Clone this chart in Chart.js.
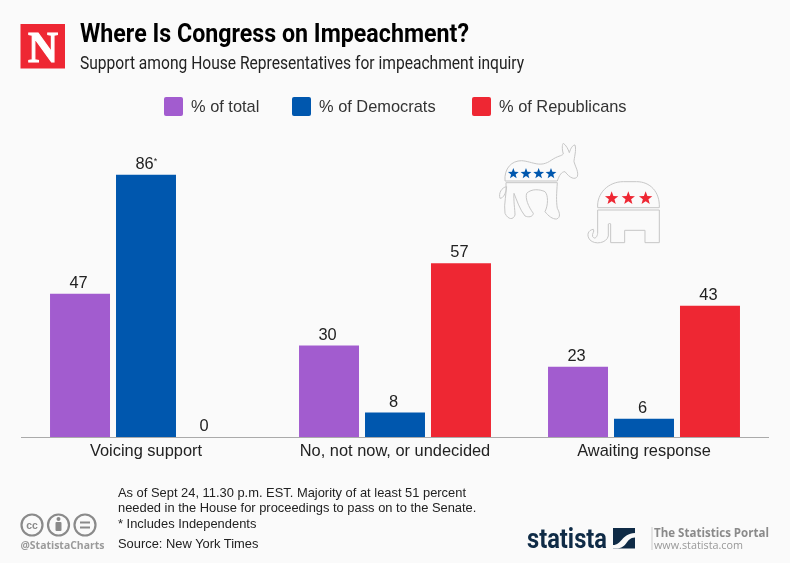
<!DOCTYPE html>
<html>
<head>
<meta charset="utf-8">
<title>Where Is Congress on Impeachment?</title>
<script src="https://cdn.jsdelivr.net/npm/chart.js@4/dist/chart.umd.min.js"></script>
<style>
  html, body { margin: 0; padding: 0; background: #fafafa; }
  #page { position: relative; width: 790px; height: 563px; overflow: hidden; background: #fafafa; font-family: "Liberation Sans", sans-serif; color: #222; }
  #chart { position: absolute; left: 0; top: 0; }
  #art { position: absolute; left: 0; top: 0; }
  .txt { position: absolute; white-space: nowrap; transform-origin: left top; }
  #title { left: 80px; top: 18px; font: 700 26px Roboto, sans-serif; color: #000; transform: scaleX(0.893); }
  #subtitle { left: 80px; top: 52px; font: 400 18px Roboto, sans-serif; color: #222; transform: scaleX(0.866); }
  .swatch { position: absolute; top: 96.5px; width: 19px; height: 19.5px; border-radius: 2px; }
  .legend-label { top: 97px; font-size: 16.4px; color: #333; }
  .note { left: 118px; font-size: 12.9px; color: #222; }
</style>
</head>
<body>
<div id="page">
  <canvas id="chart" width="790" height="563"></canvas>
  <svg id="art" width="790" height="563" viewBox="0 0 790 563">
    <!-- Newsweek logo -->
    <rect x="20.5" y="24" width="44.5" height="44.5" fill="#ee2733"/>
    <text x="43" y="62" text-anchor="middle" font-family="Liberation Serif" font-weight="700" font-size="45" fill="#fff" stroke="#fff" stroke-width="1.2" textLength="30" lengthAdjust="spacingAndGlyphs">N</text>

    <!-- donkey, drawn in zoomed coords -->
    <g transform="translate(480 130) scale(0.3333)" fill="none" stroke="#c6c6c6" stroke-width="3">
      <path d="M75,153 C72,115 95,92 125,92 C160,95 180,115 215,90 C232,78 245,78 250,72 C245,55 247,42 250,40 C258,45 265,58 268,68 C272,55 278,45 285,45 C290,60 282,85 282,95 C288,115 296,125 292,140 C285,150 270,145 255,125 C245,125 238,135 232,153 Z"/>
      <path d="M78,158 H232 C230,190 228,210 232,235 C240,250 242,262 230,267 C218,268 205,258 195,245 C205,225 205,195 195,185 C180,178 155,175 140,190 C135,205 145,230 160,250 C158,262 145,262 135,258 C120,240 110,210 102,190 C100,210 105,240 105,255 C100,270 85,270 75,250 C70,220 82,190 78,158 Z"/>
      <path d="M80,170 C65,172 55,190 60,205 C70,205 78,190 80,170 Z"/>
      <path d="M353,233 C350,190 385,155 430,155 H470 C510,155 540,185 538,233 Z"/>
      <path d="M353,240 H538 V338 H495 V301 H434 V338 H392 V282 C392,280 388,280 385,282 V318 C380,340 345,345 330,330 C318,315 325,300 340,298 C345,305 335,310 338,320 C345,330 352,320 353,310 Z"/>
      <g id="stars"></g>
    </g>

    <!-- CC icons -->
    <g fill="none" stroke="#8a8a8a" stroke-width="2.2">
      <circle cx="32" cy="525" r="10.5"/>
      <circle cx="58.5" cy="525" r="10.5"/>
      <circle cx="85" cy="525" r="10.5"/>
    </g>
    <text x="32" y="529" text-anchor="middle" font-family="Liberation Sans" font-weight="700" font-size="10.5" fill="#8a8a8a">cc</text>
    <circle cx="58.5" cy="519" r="2" fill="#8a8a8a"/>
    <rect x="55.5" y="522" width="6" height="9" rx="1" fill="#8a8a8a"/>
    <rect x="80" y="521.5" width="10" height="2" fill="#8a8a8a"/>
    <rect x="80" y="526.5" width="10" height="2" fill="#8a8a8a"/>
    <text x="20.5" y="548.5" font-family="Open Sans" font-weight="700" font-size="10.5" fill="#9a9a9a" textLength="84" lengthAdjust="spacingAndGlyphs">@StatistaCharts</text>

    <!-- Statista logo -->
    <text x="527" y="548" font-family="Roboto" font-weight="700" font-size="28" fill="#0f2b46" textLength="80" lengthAdjust="spacingAndGlyphs">statista</text>
    <rect x="613" y="528" width="22" height="20.5" fill="#0f2b46"/>
    <path d="M613,545 C622,545 621,534 635,533 V537.5 C625,538 628,548.5 616,548.5 H613 Z" fill="#fafafa"/>
    <rect x="651.5" y="527" width="1" height="23" fill="#ccc"/>
    <text x="654" y="537" font-family="Open Sans" font-weight="700" font-size="11.5" fill="#8a8a8a" textLength="115" lengthAdjust="spacingAndGlyphs">The Statistics Portal</text>
    <text x="654" y="549" font-family="Open Sans" font-size="11.5" fill="#999" textLength="89" lengthAdjust="spacingAndGlyphs">www.statista.com</text>
  </svg>

  <div class="txt" id="title">Where Is Congress on Impeachment?</div>
  <div class="txt" id="subtitle">Support among House Representatives for impeachment inquiry</div>
  <div id="legend"></div>
  <div class="txt note" style="top:485px">As of Sept 24, 11.30 p.m. EST. Majority of at least 51 percent</div>
  <div class="txt note" style="top:500px">needed in the House for proceedings to pass on to the Senate.</div>
  <div class="txt note" style="top:516px">* Includes Independents</div>
  <div class="txt note" style="top:536px">Source: New York Times</div>
</div>

<script>
const categories = ['Voicing support', 'No, not now, or undecided', 'Awaiting response'];
const seriesNames = ['% of total', '% of Democrats', '% of Republicans'];
const totalValues = [47, 30, 23];
const democratValues = [86, 8, 6];
const republicanValues = [0, 57, 43];
const seriesColors = ['#a25ccf', '#0057ae', '#ee2733'];

// legend, same slots as the picture
const legendX = [164, 292, 472];
const legend = document.getElementById('legend');
seriesNames.forEach((name, i) => {
  const sw = document.createElement('div');
  sw.className = 'swatch';
  sw.style.left = legendX[i] + 'px';
  sw.style.background = seriesColors[i];
  legend.appendChild(sw);
  const label = document.createElement('div');
  label.className = 'txt legend-label';
  label.style.left = (legendX[i] + 27) + 'px';
  label.textContent = name;
  legend.appendChild(label);
});

// party stars
function starPoints(cx, cy, r) {
  const pts = [];
  for (let k = 0; k < 10; k++) {
    const rad = k % 2 ? r * 0.42 : r;
    const a = -Math.PI / 2 + k * Math.PI / 5;
    pts.push((cx + rad * Math.cos(a)).toFixed(1) + ',' + (cy + rad * Math.sin(a)).toFixed(1));
  }
  return pts.join(' ');
}
const stars = document.getElementById('stars');
const addStar = (cx, cy, r, color) => {
  const p = document.createElementNS('http://www.w3.org/2000/svg', 'polygon');
  p.setAttribute('points', starPoints(cx, cy, r));
  p.setAttribute('fill', color);
  p.setAttribute('stroke', 'none');
  stars.appendChild(p);
};
[100, 138, 176, 213].forEach(x => addStar(x, 131, 17, '#0057ae'));
[395, 445, 497].forEach(x => addStar(x, 205, 21, '#ee2733'));

// value labels above each bar
const valueLabels = {
  id: 'valueLabels',
  afterDatasetsDraw(chart) {
    const ctx = chart.ctx;
    ctx.save();
    ctx.fillStyle = '#222';
    ctx.textAlign = 'center';
    ctx.textBaseline = 'alphabetic';
    chart.data.datasets.forEach((ds, d) => {
      chart.getDatasetMeta(d).data.forEach((bar, i) => {
        // the zero label sits left of its empty slot in the original
        const x = ds.data[i] === 0 ? bar.x - 8 : bar.x - 1.5;
        ctx.font = '16.4px "Liberation Sans"';
        ctx.fillText(ds.data[i], x, bar.y - 6);
        if (d === 1 && i === 0) {
          ctx.font = '9px "Liberation Sans"';
          ctx.fillText('*', x + 11, bar.y - 11);
        }
      });
    });
    ctx.restore();
  }
};

new Chart(document.getElementById('chart'), {
  type: 'bar',
  data: {
    labels: categories,
    datasets: [
      { label: seriesNames[0], data: totalValues, backgroundColor: seriesColors[0] },
      { label: seriesNames[1], data: democratValues, backgroundColor: seriesColors[1] },
      { label: seriesNames[2], data: republicanValues, backgroundColor: seriesColors[2] }
    ]
  },
  options: {
    responsive: false,
    animation: false,
    devicePixelRatio: 1,
    layout: { padding: { left: 21.5, right: 21.5, top: 132, bottom: 0 } },
    datasets: { bar: { barPercentage: 0.909, categoryPercentage: 0.795 } },
    plugins: { legend: { display: false }, tooltip: { enabled: false } },
    scales: {
      x: {
        grid: { display: false, drawTicks: false },
        border: { display: true, color: '#aaaaaa', width: 1 },
        ticks: { color: '#222', font: { family: 'Liberation Sans', size: 16.4 }, padding: 5, maxRotation: 0 },
        afterFit: scale => { scale.height = 126; }
      },
      y: { display: false, min: 0, max: 100 }
    }
  },
  plugins: [valueLabels]
});
</script>
</body>
</html>
